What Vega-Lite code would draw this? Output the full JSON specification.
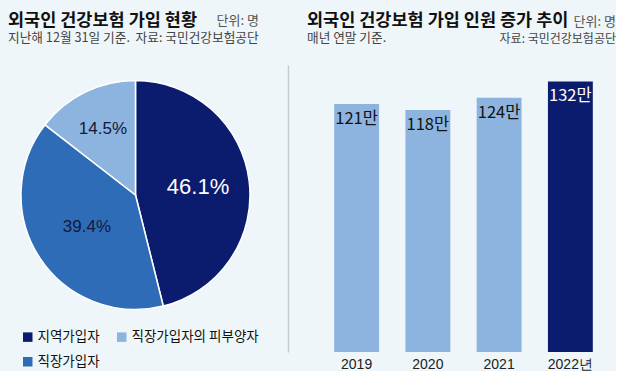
{
  "$schema": "https://vega.github.io/schema/vega-lite/v6.json",
  "background": "#eef6f9",
  "padding": {"left": 8, "top": 11, "right": 0, "bottom": 0},
  "spacing": 29,
  "resolve": {"scale": {"color": "independent"}, "legend": {"color": "independent"}},
  "config": {
    "font": "Noto Sans CJK KR",
    "view": {"stroke": null},
    "title": {"color": "#111111", "subtitleColor": "#444444", "subtitleFont": "Noto Sans CJK KR"}
  },
  "hconcat": [
    {
      "resolve": {"scale": {"color": "independent"}, "legend": {"color": "independent"}},
      "title": {"text": "단위: 명", "anchor": "end", "frame": "bounds", "fontSize": 13, "fontWeight": "normal", "color": "#555555", "dx": 0, "dy": 20},
      "vconcat": [
        {
          "width": 229,
          "height": 260,
          "title": {
            "text": "외국인 건강보험 가입 현황",
            "subtitle": "지난해 12월 31일 기준.\u00a0 자료: 국민건강보험공단",
            "anchor": "start",
            "frame": "group",
            "dx": -13,
            "fontSize": 17.5,
            "fontWeight": "bold",
            "subtitleFontSize": 12.7,
            "subtitlePadding": 3,
            "offset": 20
          },
          "data": {"values": [
            {"type": "지역가입자", "pct": 46.1, "label": "46.1%", "ord": 1},
            {"type": "직장가입자", "pct": 39.4, "label": "39.4%", "ord": 2},
            {"type": "직장가입자의 피부양자", "pct": 14.5, "label": "14.5%", "ord": 3}
          ]},
          "encoding": {
            "theta": {"field": "pct", "type": "quantitative", "stack": true},
            "order": {"field": "ord", "type": "quantitative"},
            "color": {
              "field": "type",
              "type": "nominal",
              "scale": {"domain": ["지역가입자", "직장가입자의 피부양자", "직장가입자"], "range": ["#0b1c6e", "#8db4de", "#2f6cb8"]},
              "legend": {
                "orient": "bottom",
                "direction": "horizontal",
                "columns": 2,
                "title": null,
                "symbolType": "square",
                "symbolSize": 90,
                "symbolStrokeWidth": 0,
                "labelFontSize": 13.5,
                "labelOffset": 3,
                "labelColor": "#111111",
                "labelLimit": 300,
                "columnPadding": 15,
                "rowPadding": 10,
                "offset": 5
              }
            }
          },
          "layer": [
            {"mark": {"type": "arc", "stroke": "#ffffff", "strokeWidth": 1.5}},
            {
              "mark": {"type": "text", "radius": 63, "fontSize": 22, "font": "Liberation Sans"},
              "encoding": {"text": {"condition": {"test": "datum.type === '지역가입자'", "field": "label", "type": "nominal"}, "value": ""}, "color": {"value": "#ffffff"}}
            },
            {
              "mark": {"type": "text", "radius": 58, "fontSize": 17, "font": "Liberation Sans"},
              "encoding": {"text": {"condition": {"test": "datum.type === '직장가입자'", "field": "label", "type": "nominal"}, "value": ""}, "color": {"value": "#111a3a"}}
            },
            {
              "mark": {"type": "text", "radius": 74, "fontSize": 17, "font": "Liberation Sans"},
              "encoding": {"text": {"condition": {"test": "datum.type === '직장가입자의 피부양자'", "field": "label", "type": "nominal"}, "value": ""}, "color": {"value": "#111a3a"}}
            }
          ]
        }
      ]
    },
    {
      "title": {"text": "단위: 명", "subtitle": "자료: 국민건강보험공단", "anchor": "end", "frame": "bounds", "fontSize": 13, "fontWeight": "normal", "color": "#555555", "subtitleFontSize": 12, "subtitleColor": "#444444", "subtitlePadding": 5, "dx": 10, "dy": 37},
      "vconcat": [
        {
          "width": 285,
          "height": 287,
          "title": {
            "text": "외국인 건강보험 가입 인원 증가 추이",
            "subtitle": "매년 연말 기준.",
            "anchor": "start",
            "frame": "group",
            "dx": -14,
            "fontSize": 17.5,
            "fontWeight": "bold",
            "subtitleFontSize": 12.7,
            "subtitlePadding": 3,
            "offset": 20
          },
          "data": {"values": [
            {"year": "2019", "v": 121, "label": "121만"},
            {"year": "2020", "v": 118, "label": "118만"},
            {"year": "2021", "v": 124, "label": "124만"},
            {"year": "2022", "v": 132, "label": "132만"}
          ]},
          "encoding": {
            "x": {
              "field": "year",
              "type": "ordinal",
              "scale": {"paddingInner": 0.37, "paddingOuter": 0.185},
              "axis": {
                "title": null,
                "domain": false,
                "ticks": false,
                "labelAngle": 0,
                "labelFont": "Liberation Sans",
                "labelFontSize": 14,
                "labelColor": "#222222",
                "labelPadding": 5,
                "labelExpr": "datum.value === '2022' ? '2022년' : datum.label"
              }
            },
            "y": {
              "field": "v",
              "type": "quantitative",
              "scale": {"domain": [0, 140]},
              "axis": {"title": null, "labels": false, "ticks": false, "grid": false, "domain": true, "domainColor": "#c5ccd2", "domainWidth": 1.5, "offset": 33}
            }
          },
          "layer": [
            {
              "mark": {"type": "bar"},
              "encoding": {"color": {"condition": {"test": "datum.year === '2022'", "value": "#0b1c6e"}, "value": "#8db4de"}}
            },
            {
              "mark": {"type": "text", "baseline": "top", "dy": 7, "fontSize": 16.5, "font": "Liberation Sans Narrow, Noto Sans CJK KR"},
              "encoding": {
                "text": {"field": "label", "type": "nominal"},
                "color": {"condition": {"test": "datum.year === '2022'", "value": "#ffffff"}, "value": "#111111"}
              }
            }
          ]
        }
      ]
    }
  ]
}
